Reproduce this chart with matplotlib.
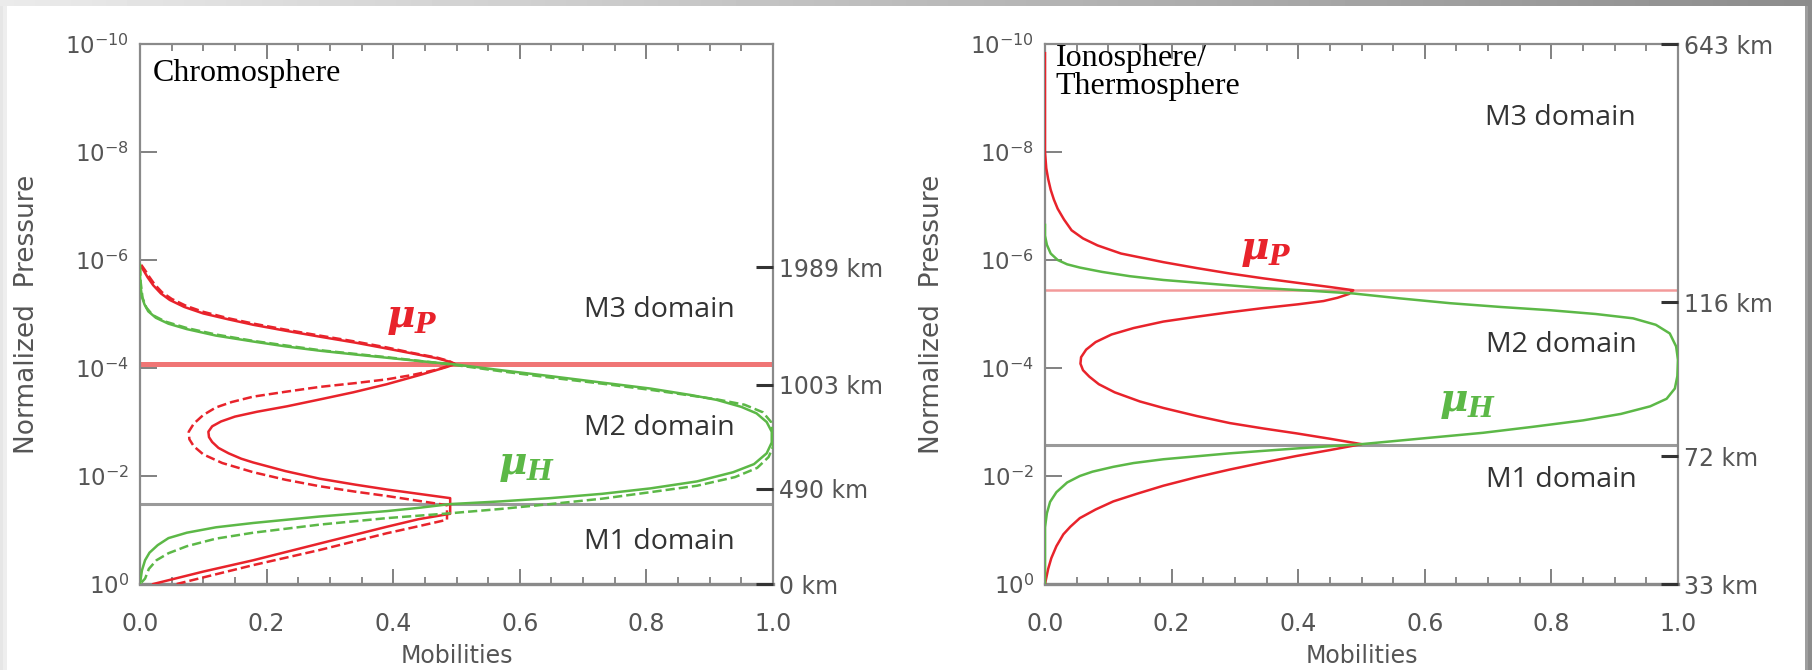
import numpy as np
import matplotlib
matplotlib.use('Agg')
import matplotlib.pyplot as plt
from matplotlib.ticker import MultipleLocator, NullLocator

plt.rcParams['mathtext.fontset'] = 'custom'
plt.rcParams['mathtext.rm'] = 'DejaVu Sans'
plt.rcParams['mathtext.it'] = 'DejaVu Serif:italic:bold'
plt.rcParams['mathtext.bf'] = 'DejaVu Serif:italic:bold'

# ---- data (mobility, log10 normalized pressure) ----
# Chromosphere: mu_P solid / dashed, mu_H solid / dashed
chr_p_mob = [0.001, 0.006, 0.012, 0.021, 0.033, 0.047, 0.07, 0.10, 0.14, 0.179, 0.23, 0.284, 0.34, 0.39,
             0.43, 0.469, 0.488, 0.497, 0.485, 0.465, 0.442, 0.39, 0.337, 0.285, 0.232, 0.185, 0.15,
             0.128, 0.114, 0.108, 0.109, 0.114, 0.124, 0.14, 0.16, 0.179, 0.23, 0.284, 0.34, 0.39, 0.44,
             0.49, 0.49, 0.44, 0.39, 0.284, 0.179, 0.10, 0.021]
chr_p_log = [-5.89, -5.80, -5.68, -5.53, -5.38, -5.26, -5.13, -5.01, -4.90, -4.80, -4.69, -4.58, -4.47, -4.36,
             -4.27, -4.18, -4.12, -4.07, -4.02, -3.95, -3.87, -3.70, -3.55, -3.42, -3.29, -3.19, -3.10,
             -3.01, -2.92, -2.82, -2.72, -2.63, -2.52, -2.42, -2.32, -2.25, -2.09, -1.95, -1.84, -1.75, -1.67,
             -1.59, -1.30, -1.20, -1.06, -0.75, -0.44, -0.23, 0.0]
chr_p2_mob = [0.002, 0.008, 0.014, 0.023, 0.035, 0.05, 0.073, 0.10, 0.14, 0.18, 0.23, 0.284, 0.34, 0.39,
              0.43, 0.47, 0.488, 0.497, 0.485, 0.469, 0.43, 0.39, 0.34, 0.284, 0.23, 0.179, 0.145, 0.12,
              0.10, 0.085, 0.077, 0.078, 0.085, 0.10, 0.13, 0.179, 0.23, 0.284, 0.34, 0.39, 0.44, 0.485,
              0.485, 0.44, 0.39, 0.284, 0.179, 0.12, 0.058]
chr_p2_log = [-5.91, -5.81, -5.70, -5.55, -5.40, -5.28, -5.15, -5.04, -4.92, -4.82, -4.71, -4.60, -4.49, -4.38,
              -4.28, -4.19, -4.13, -4.08, -4.03, -3.97, -3.87, -3.79, -3.72, -3.65, -3.56, -3.47, -3.37, -3.27,
              -3.13, -2.97, -2.82, -2.68, -2.55, -2.40, -2.24, -2.07, -1.93, -1.81, -1.71, -1.63, -1.54, -1.46,
              -1.19, -1.07, -0.94, -0.63, -0.35, -0.18, 0.0]
chr_h_mob = [0.0, 0.0, 0.001, 0.003, 0.007, 0.013, 0.025, 0.045, 0.074, 0.12, 0.179, 0.23, 0.284, 0.34,
             0.39, 0.44, 0.495, 0.57, 0.648, 0.73, 0.806, 0.87, 0.911, 0.95, 0.974, 0.99, 0.998, 0.998,
             0.99, 0.97, 0.937, 0.88, 0.806, 0.73, 0.648, 0.57, 0.49, 0.44, 0.39, 0.284, 0.179, 0.12,
             0.074, 0.045, 0.028, 0.015, 0.008, 0.003, 0.0]
chr_h_log = [-5.91, -5.70, -5.50, -5.32, -5.18, -5.05, -4.93, -4.82, -4.72, -4.60, -4.49, -4.40, -4.32, -4.25,
             -4.19, -4.13, -4.07, -3.96, -3.85, -3.73, -3.62, -3.50, -3.41, -3.28, -3.16, -3.00, -2.82, -2.62,
             -2.42, -2.22, -2.07, -1.90, -1.77, -1.67, -1.59, -1.53, -1.48, -1.41, -1.35, -1.25, -1.13, -1.05,
             -0.95, -0.85, -0.72, -0.58, -0.44, -0.25, 0.0]
chr_h2_mob = [0.0, 0.001, 0.004, 0.01, 0.02, 0.04, 0.074, 0.12, 0.18, 0.284, 0.39, 0.495, 0.57, 0.65,
              0.73, 0.81, 0.87, 0.911, 0.955, 0.984, 0.997, 1.0, 1.0, 0.993, 0.975, 0.94, 0.88, 0.806,
              0.73, 0.648, 0.57, 0.49, 0.39, 0.284, 0.179, 0.12, 0.074, 0.045, 0.026, 0.014, 0.008, 0.0]
chr_h2_log = [-5.88, -5.60, -5.30, -5.12, -4.98, -4.86, -4.74, -4.62, -4.50, -4.33, -4.20, -4.06, -3.94, -3.82,
              -3.71, -3.59, -3.49, -3.42, -3.32, -3.18, -3.00, -2.80, -2.54, -2.35, -2.15, -1.98, -1.82, -1.70,
              -1.58, -1.48, -1.39, -1.31, -1.22, -1.10, -0.95, -0.84, -0.70, -0.57, -0.44, -0.28, -0.10, 0.0]
chr_m3_line = -4.07
chr_m1_line = -1.48
chr_km_log = [-5.87, -3.69, -1.76, 0.0]
chr_km_lab = ['1989 km', '1003 km', '490 km', '0 km']

# Ionosphere / Thermosphere
ion_p_mob = [0.0, 0.0, 0.0, 0.002, 0.005, 0.009, 0.014, 0.02, 0.03, 0.042, 0.06, 0.083, 0.12, 0.187, 0.24,
             0.292, 0.345, 0.397, 0.45, 0.487, 0.48, 0.462, 0.44, 0.40, 0.345, 0.29, 0.24, 0.187, 0.14,
             0.105, 0.08, 0.065, 0.057, 0.056, 0.06, 0.07, 0.085, 0.11, 0.15, 0.187, 0.24, 0.292, 0.345,
             0.397, 0.45, 0.5, 0.45, 0.397, 0.345, 0.292, 0.24, 0.187, 0.145, 0.108, 0.08, 0.055, 0.04,
             0.029, 0.018, 0.01, 0.005, 0.0]
ion_p_log = [-9.83, -8.60, -8.00, -7.70, -7.50, -7.30, -7.12, -6.95, -6.75, -6.55, -6.40, -6.27, -6.12, -5.96,
             -5.85, -5.75, -5.66, -5.58, -5.50, -5.44, -5.37, -5.30, -5.24, -5.18, -5.11, -5.03, -4.95, -4.86,
             -4.74, -4.62, -4.48, -4.34, -4.20, -4.08, -3.96, -3.84, -3.70, -3.55, -3.38, -3.26, -3.11, -2.98,
             -2.88, -2.79, -2.69, -2.59, -2.48, -2.37, -2.25, -2.12, -1.98, -1.82, -1.67, -1.53, -1.38, -1.22,
             -1.06, -0.92, -0.70, -0.48, -0.28, 0.0]
ion_h_mob = [0.0, 0.0, 0.003, 0.009, 0.02, 0.035, 0.055, 0.09, 0.134, 0.187, 0.24, 0.292, 0.345, 0.42, 0.487,
             0.56, 0.64, 0.72, 0.798, 0.87, 0.929, 0.965, 0.987, 0.997, 1.0, 0.999, 0.995, 0.982, 0.956,
             0.91, 0.85, 0.77, 0.692, 0.6, 0.5, 0.397, 0.292, 0.187, 0.14, 0.108, 0.075, 0.055, 0.035,
             0.018, 0.008, 0.003, 0.0, 0.0]
ion_h_log = [-6.65, -6.45, -6.28, -6.12, -6.00, -5.92, -5.86, -5.78, -5.70, -5.63, -5.58, -5.53, -5.48, -5.43,
             -5.38, -5.29, -5.20, -5.13, -5.07, -5.00, -4.92, -4.80, -4.64, -4.40, -4.15, -3.85, -3.62, -3.43,
             -3.29, -3.15, -3.03, -2.91, -2.80, -2.70, -2.59, -2.51, -2.42, -2.31, -2.24, -2.17, -2.08, -2.00,
             -1.88, -1.70, -1.52, -1.31, -1.05, 0.0]
ion_m3_line = -5.44
ion_m1_line = -2.57
ion_km_log = [-10.0, -5.22, -2.37, 0.0]
ion_km_lab = ['643 km', '116 km', '72 km', '33 km']

red = '#e8232b'
green = '#5cb847'
gray_txt = '#555555'

fig = plt.figure(figsize=(18.12, 6.70), dpi=100)

# soft frame shadow like the source slide
bg = fig.add_axes([0, 0, 1, 1], zorder=-10)
bg.set_axis_off()
bg.set_xlim(0, 1812)
bg.set_ylim(670, 0)
top = np.linspace(0.92, 0.55, 256)[None, :]
bg.imshow(top, cmap='gray', vmin=0, vmax=1, extent=[0, 1812, 6, 0], aspect='auto')
bg.imshow([[0.9, 0.93]], cmap='gray', vmin=0, vmax=1, extent=[0, 7, 670, 6], aspect='auto')
bg.imshow([[0.62, 0.55]], cmap='gray', vmin=0, vmax=1, extent=[1805, 1812, 670, 6], aspect='auto')


def panel(rect, curves, m3, m1, m3_color, m3_lw, km_log, km_lab):
    ax = fig.add_axes(rect)
    ax.set_yscale('log')
    ax.set_xlim(0, 1)
    ax.set_ylim(1.0, 1e-10)
    for mob, lg, ls in curves:
        col = red if ls[0] == 'r' else green
        ax.plot(mob, np.power(10.0, lg), color=col, lw=1.8, ls=ls[1:], zorder=3)
    ax.axhline(10 ** m3, color=m3_color, lw=m3_lw, zorder=2)
    ax.axhline(10 ** m1, color='#9a9a9a', lw=2.2, zorder=2)

    ax.set_yticks([10.0 ** e for e in range(-10, 1, 2)])
    ax.set_yticklabels([r'$10^{%d}$' % e for e in range(-10, 1, 2)])
    ax.yaxis.set_minor_locator(NullLocator())
    ax.xaxis.set_major_locator(MultipleLocator(0.2))
    ax.xaxis.set_minor_locator(MultipleLocator(0.05))
    ax.xaxis.set_major_formatter(plt.FormatStrFormatter('%.1f'))
    ax.tick_params(axis='x', which='major', direction='in', length=11, width=1.3, top=True,
                   colors='#777777', labelcolor=gray_txt, labelsize=17, pad=20)
    ax.tick_params(axis='x', which='minor', direction='in', length=5, width=1.2, top=True, colors='#777777')
    ax.tick_params(axis='y', which='major', direction='in', length=12, width=1.3, right=False,
                   colors='#777777', labelcolor=gray_txt, labelsize=16.5, pad=8)
    for s in ax.spines.values():
        s.set_color('#8a8a8a')
        s.set_linewidth(1.6)
    ax.spines['bottom'].set_linewidth(2.4)
    ax.set_xlabel('Mobilities', fontsize=17, color=gray_txt, labelpad=6)
    ax.set_ylabel('Normalized  Pressure', fontsize=19, color=gray_txt, labelpad=18)

    ax2 = ax.twinx()
    ax2.set_yscale('log')
    ax2.set_ylim(1.0, 1e-10)
    ax2.set_yticks([10.0 ** e for e in km_log])
    ax2.set_yticklabels(km_lab)
    ax2.yaxis.set_minor_locator(NullLocator())
    ax2.tick_params(axis='y', direction='in', length=12, width=2.2, colors='#333333',
                    labelcolor=gray_txt, labelsize=17, pad=4)
    for s in ax2.spines.values():
        s.set_visible(False)
    return ax


ax1 = panel([140 / 1812, 1 - 584 / 670, 633 / 1812, 540 / 670],
            [(chr_p_mob, chr_p_log, 'r-'), (chr_p2_mob, chr_p2_log, 'r--'),
             (chr_h_mob, chr_h_log, 'g-'), (chr_h2_mob, chr_h2_log, 'g--')],
            chr_m3_line, chr_m1_line, '#f07575', 3.6, chr_km_log, chr_km_lab)
ax2 = panel([1045 / 1812, 1 - 584 / 670, 633 / 1812, 540 / 670],
            [(ion_p_mob, ion_p_log, 'r-'), (ion_h_mob, ion_h_log, 'g-')],
            ion_m3_line, ion_m1_line, '#f39a9a', 1.8, ion_km_log, ion_km_lab)

dom = dict(fontsize=20.5, color='#333333', family='Open Sans', ha='center', va='center')
serif = dict(fontsize=23, color='black', family='Liberation Serif', ha='left', va='center')

ax1.text(0.02, 10 ** -9.46, 'Chromosphere', **serif)
ax1.text(0.82, 10 ** -5.07, 'M3 domain', **dom)
ax1.text(0.82, 10 ** -2.89, 'M2 domain', **dom)
ax1.text(0.82, 10 ** -0.78, 'M1 domain', **dom)
ax1.text(0.43, 10 ** -4.93, r'$\mu_P$', fontsize=28, color=red, ha='center', va='center')
ax1.text(0.61, 10 ** -2.20, r'$\mu_H$', fontsize=28, color=green, ha='center', va='center')

ax2.text(0.017, 10 ** -9.48, 'Ionosphere/\nThermosphere', linespacing=0.95, **serif)
ax2.text(0.814, 10 ** -8.63, 'M3 domain', **dom)
ax2.text(0.815, 10 ** -4.43, 'M2 domain', **dom)
ax2.text(0.815, 10 ** -1.93, 'M1 domain', **dom)
ax2.text(0.349, 10 ** -6.19, r'$\mu_P$', fontsize=28, color=red, ha='center', va='center')
ax2.text(0.667, 10 ** -3.37, r'$\mu_H$', fontsize=28, color=green, ha='center', va='center')

plt.savefig('out.png', dpi=100)
